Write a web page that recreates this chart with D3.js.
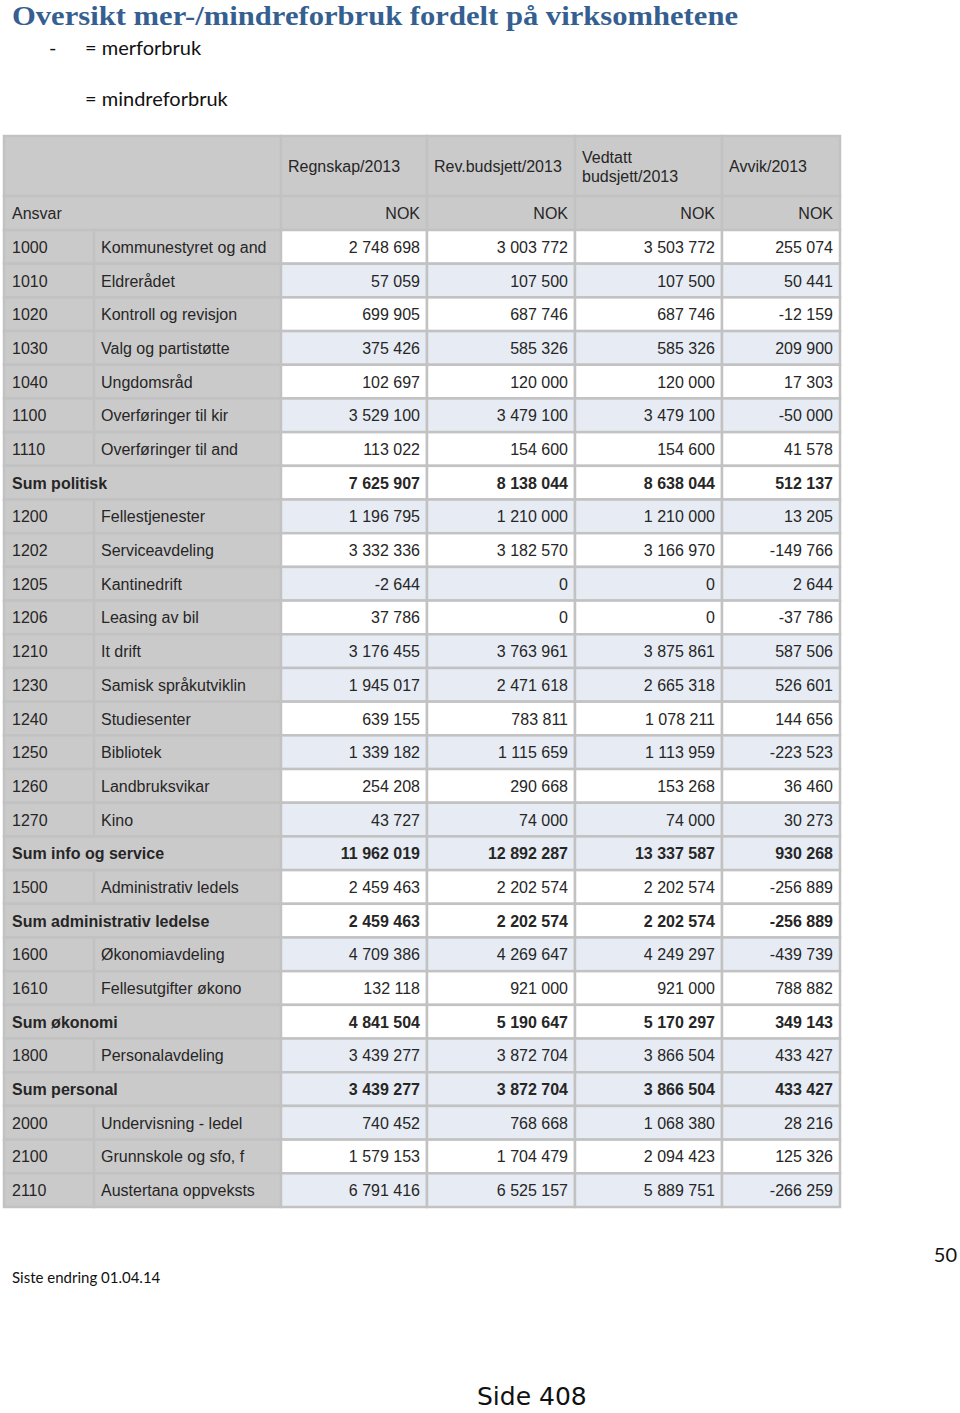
<!DOCTYPE html>
<html><head><meta charset="utf-8">
<script src="https://cdn.jsdelivr.net/npm/d3@7"></script>
<style>body{margin:0;background:#fff}svg{display:block}</style>
</head><body>
<script>
const codes = ["1000","1010","1020","1030","1040","1100","1110","Sum politisk","1200","1202","1205","1206","1210","1230","1240","1250","1260","1270","Sum info og service","1500","Sum administrativ ledelse","1600","1610","Sum økonomi","1800","Sum personal","2000","2100","2110"];
const names = ["Kommunestyret og and","Eldrerådet","Kontroll og revisjon","Valg og partistøtte","Ungdomsråd","Overføringer til kir","Overføringer til and","","Fellestjenester","Serviceavdeling","Kantinedrift","Leasing av bil","It drift","Samisk språkutviklin","Studiesenter","Bibliotek","Landbruksvikar","Kino","","Administrativ ledels","","Økonomiavdeling","Fellesutgifter økono","","Personalavdeling","","Undervisning - ledel","Grunnskole og sfo, f","Austertana oppveksts"];
const regnskap = [2748698,57059,699905,375426,102697,3529100,113022,7625907,1196795,3332336,-2644,37786,3176455,1945017,639155,1339182,254208,43727,11962019,2459463,2459463,4709386,132118,4841504,3439277,3439277,740452,1579153,6791416];
const revBudsjett = [3003772,107500,687746,585326,120000,3479100,154600,8138044,1210000,3182570,0,0,3763961,2471618,783811,1115659,290668,74000,12892287,2202574,2202574,4269647,921000,5190647,3872704,3872704,768668,1704479,6525157];
const vedtatt = [3503772,107500,687746,585326,120000,3479100,154600,8638044,1210000,3166970,0,0,3875861,2665318,1078211,1113959,153268,74000,13337587,2202574,2202574,4249297,921000,5170297,3866504,3866504,1068380,2094423,5889751];
const avvik = [255074,50441,-12159,209900,17303,-50000,41578,512137,13205,-149766,2644,-37786,587506,526601,144656,-223523,36460,30273,930268,-256889,-256889,-439739,788882,349143,433427,433427,28216,125326,-266259];
const shade = ["w","b","w","b","w","b","w","w","b","w","b","w","b","b","w","b","w","b","b","w","w","b","w","w","b","b","b","w","b"];
const headers = ["Regnskap/2013","Rev.budsjett/2013","Vedtatt\nbudsjett/2013","Avvik/2013"];
const unitLabel = "NOK";

const W = 960, H = 1413;
const svg = d3.select("body").append("svg").attr("width", W).attr("height", H);

const colEdges = [4, 94, 281, 427, 575, 722, 840];
const valueCols = ["regnskap","revBudsjett","vedtatt","avvik"];
const colX = d3.scaleOrdinal().domain(["code","name",...valueCols]).range(colEdges.slice(0,6));
const colW = d3.scaleOrdinal().domain(["code","name",...valueCols]).range(d3.pairs(colEdges).map(p=>p[1]-p[0]));

const y = d3.scaleBand().domain(d3.range(codes.length)).range([230, 1207]).padding(0);

const grey = "#cbcaca", blue = "#e7ecf4", white = "#ffffff", line = "#c2c2c2", txt = "#262626";
const fmt = v => (v < 0 ? "-" : "") + d3.format(",")(Math.abs(v)).replace(/,/g, " ");

svg.append("text").attr("x", 12).attr("y", 25)
  .attr("font-family", "Liberation Serif, serif").attr("font-weight", "bold").attr("font-size", 27)
  .attr("fill", "#365f91").attr("textLength", 726).attr("lengthAdjust", "spacingAndGlyphs")
  .text("Oversikt mer-/mindreforbruk fordelt på virksomhetene");
const lg = svg.append("g").attr("font-family", "Lato, 'Open Sans', sans-serif").attr("font-size", 20).attr("fill", "#111");
lg.append("text").attr("x", 49).attr("y", 55).text("-");
lg.append("text").attr("x", 85).attr("y", 55).text("= merforbruk");
lg.append("text").attr("x", 85).attr("y", 106).text("= mindreforbruk");

const g = svg.append("g").attr("font-family", "Liberation Sans, Arial, sans-serif").attr("font-size", 16).attr("fill", txt);

function cell(x, yy, w, h, fill) {
  g.append("rect").attr("x", x).attr("y", yy).attr("width", w).attr("height", h)
    .attr("fill", fill).attr("stroke", line).attr("stroke-width", 2.5);
}

const h1 = [136, 196], h2 = [196, 230];
cell(colX("code"), h1[0], colW("code") + colW("name"), h1[1]-h1[0], grey);
valueCols.forEach((c, i) => {
  cell(colX(c), h1[0], colW(c), h1[1]-h1[0], grey);
  const lines = headers[i].split("\n");
  const t = g.append("text").attr("x", colX(c) + 7);
  if (lines.length === 1) {
    t.attr("y", 172).text(lines[0]);
  } else {
    lines.forEach((l, j) => t.append("tspan").attr("x", colX(c) + 7).attr("y", 163 + j*19).text(l));
  }
});
cell(colX("code"), h2[0], colW("code") + colW("name"), h2[1]-h2[0], grey);
g.append("text").attr("x", 12).attr("y", 219).text("Ansvar");
valueCols.forEach(c => {
  cell(colX(c), h2[0], colW(c), h2[1]-h2[0], grey);
  g.append("text").attr("x", colX(c) + colW(c) - 7).attr("y", 219).attr("text-anchor", "end").text(unitLabel);
});

const series = {regnskap, revBudsjett, vedtatt, avvik};
codes.forEach((code, i) => {
  const isSum = code.startsWith("Sum");
  const y0 = y(i), bh = y.bandwidth(), ty = y0 + bh/2 + 6;
  const fill = shade[i] === "b" ? blue : white;
  if (isSum) {
    cell(colX("code"), y0, colW("code") + colW("name"), bh, grey);
    g.append("text").attr("x", 12).attr("y", ty).attr("font-weight", "bold").text(code);
  } else {
    cell(colX("code"), y0, colW("code"), bh, grey);
    cell(colX("name"), y0, colW("name"), bh, grey);
    g.append("text").attr("x", 12).attr("y", ty).text(code);
    g.append("text").attr("x", colX("name") + 7).attr("y", ty).text(names[i]);
  }
  valueCols.forEach(c => {
    cell(colX(c), y0, colW(c), bh, fill);
    g.append("text").attr("x", colX(c) + colW(c) - 7).attr("y", ty).attr("text-anchor", "end")
      .attr("font-weight", isSum ? "bold" : null).text(fmt(series[c][i]));
  });
});

svg.append("text").attr("x", 12).attr("y", 1283).attr("font-family", "Lato, sans-serif").attr("font-size", 15).attr("fill", "#111").text("Siste endring 01.04.14");
svg.append("text").attr("x", 957).attr("y", 1262).attr("text-anchor", "end").attr("font-family", "Lato, sans-serif").attr("font-size", 20).attr("fill", "#111").text("50");
svg.append("text").attr("x", 477).attr("y", 1405).attr("font-family", "DejaVu Sans, sans-serif").attr("font-size", 25).attr("fill", "#111").text("Side 408");
</script>
</body></html>
